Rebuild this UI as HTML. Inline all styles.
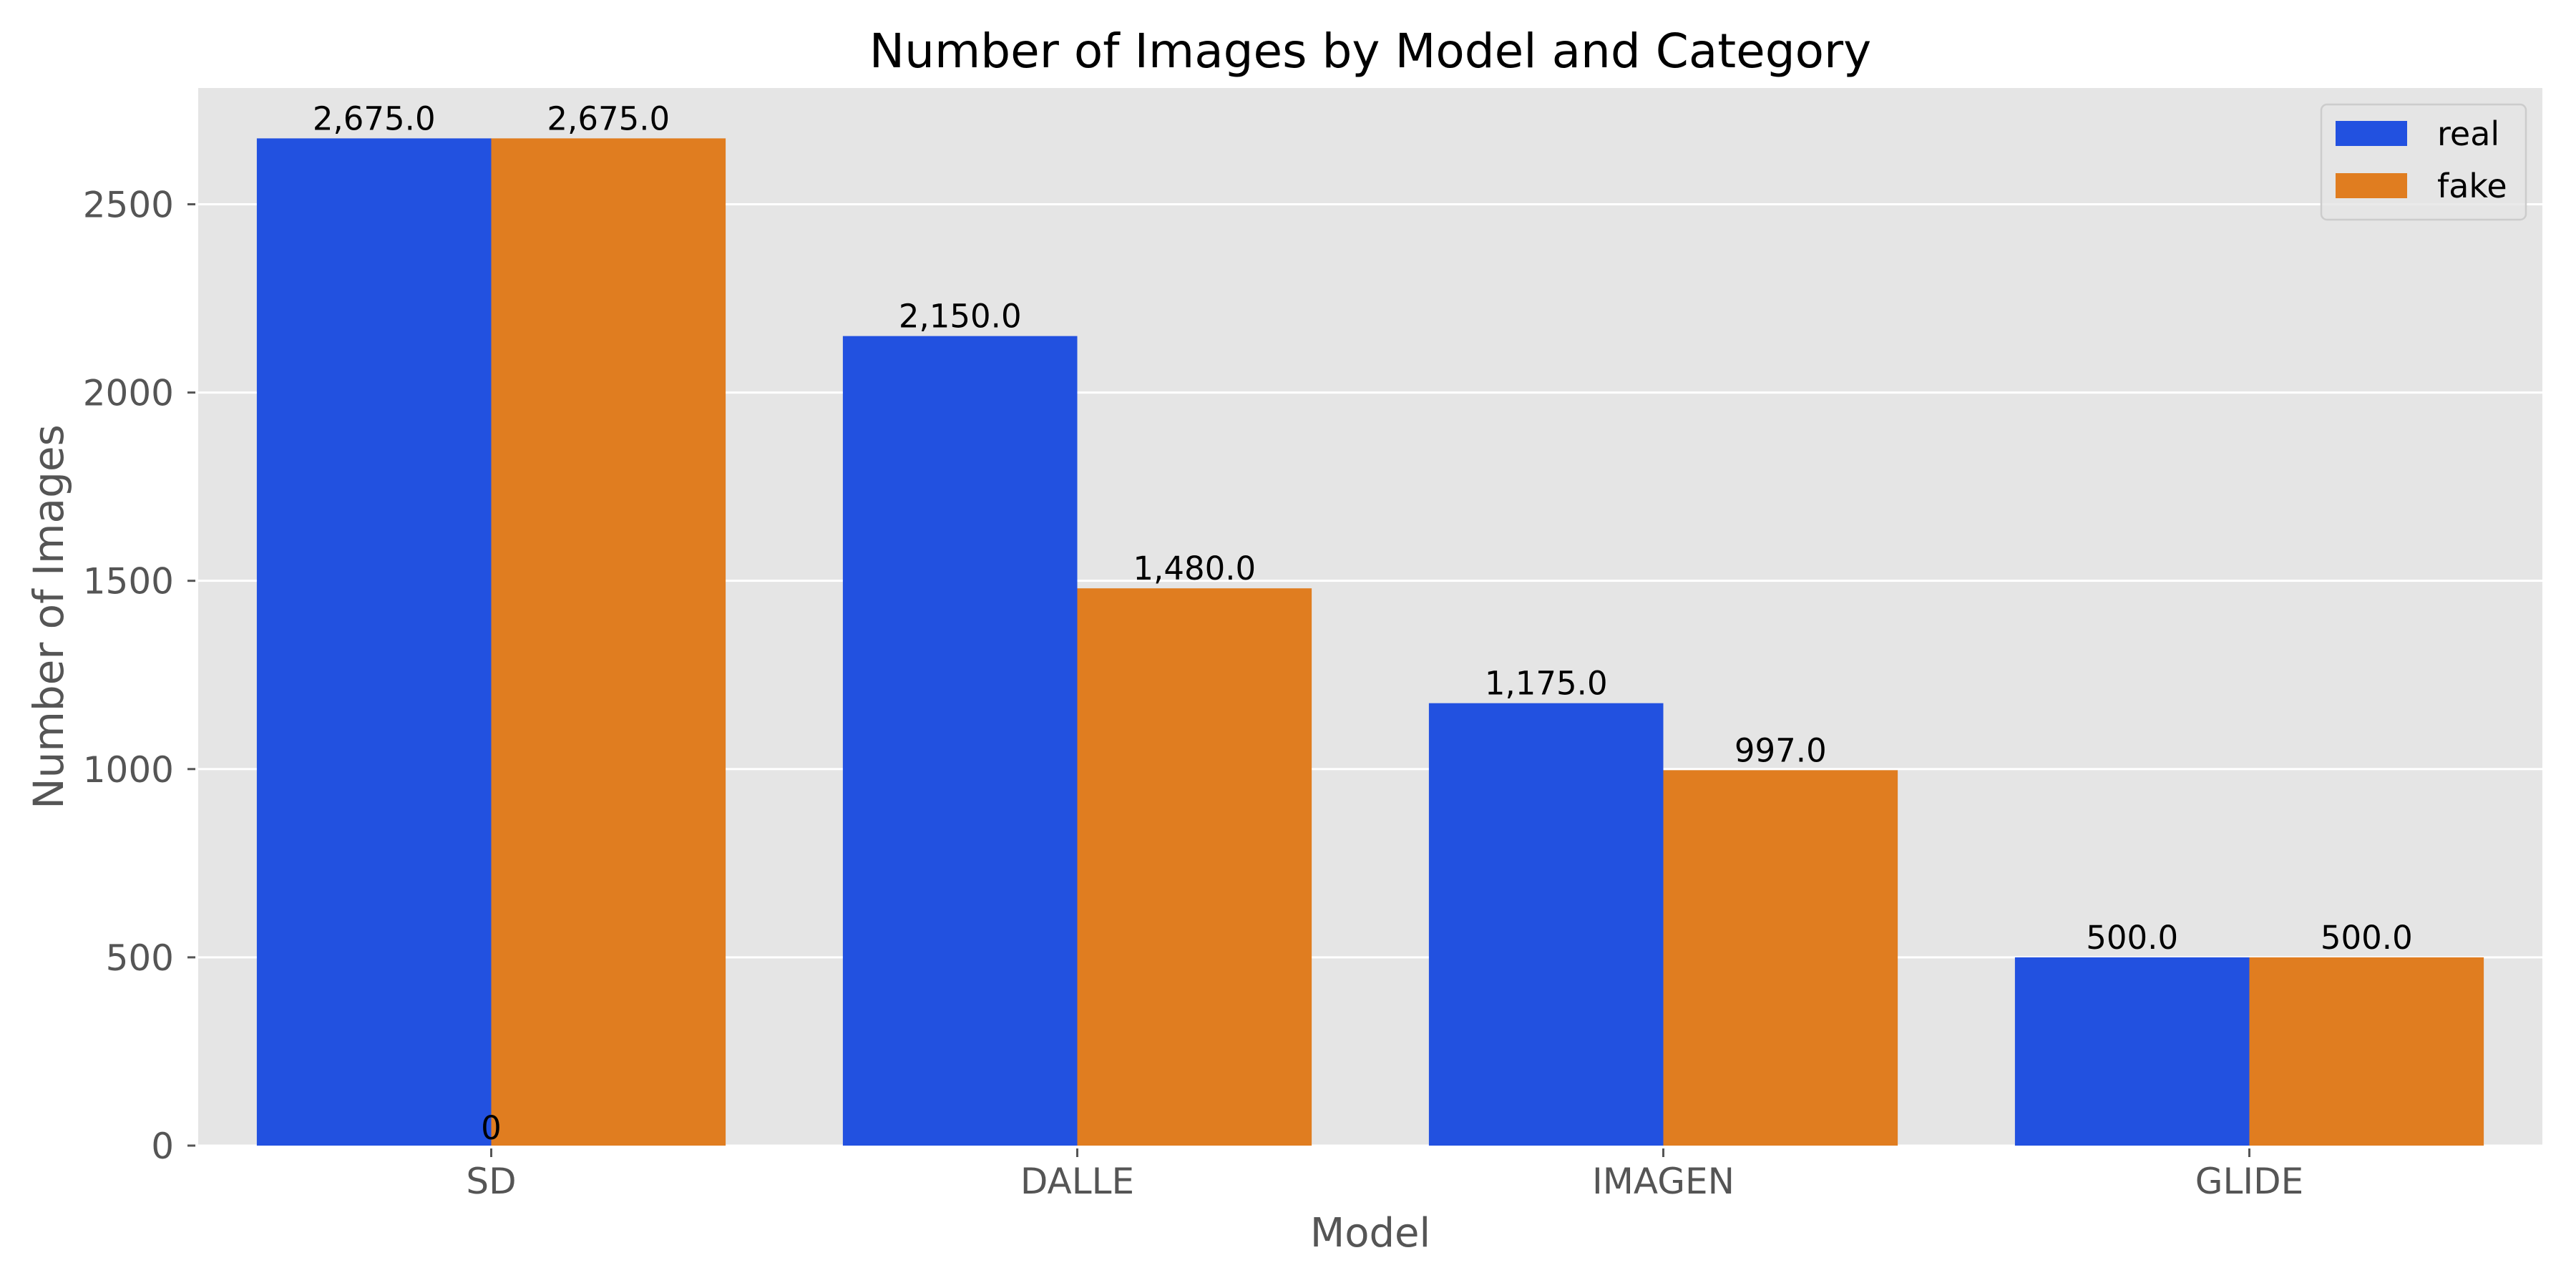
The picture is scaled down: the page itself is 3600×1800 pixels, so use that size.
<!DOCTYPE html>
<html><head><meta charset="utf-8"><style>
html,body{margin:0;padding:0;background:#fff;}
svg{display:block;font-family:"DejaVu Sans","Liberation Sans",sans-serif;}
</style></head><body>
<svg id="chart" width="3600" height="1800" viewBox="0 0 3600 1800" xmlns="http://www.w3.org/2000/svg">
<rect x="0" y="0" width="3600" height="1800" fill="#fff"/>
<rect x="277" y="123" width="3276" height="1478" fill="#e5e5e5"/>
<g id="grid"></g><g id="bars"></g><g id="labels"></g><g id="axes"></g>
<text x="1915" y="94" text-anchor="middle" font-size="66" fill="#000">Number of Images by Model and Category</text>
<text x="1915" y="1742" text-anchor="middle" font-size="56" fill="#555">Model</text>
<text transform="translate(88,862) rotate(-90)" text-anchor="middle" font-size="58" fill="#555">Number of Images</text>
<g>
<rect x="3244" y="146" width="286" height="161" rx="8" fill="#e5e5e5" fill-opacity="0.8" stroke="#cccccc" stroke-width="2.5"/>
<rect x="3264" y="169" width="100" height="35" fill="#2251e0"/>
<text x="3406" y="203" font-size="46" fill="#000">real</text>
<rect x="3264" y="242" width="100" height="35" fill="#e07d20"/>
<text x="3406" y="276" font-size="46" fill="#000">fake</text>
</g>
</svg>
<script>
const categories = ["SD", "DALLE", "IMAGEN", "GLIDE"];
const realValues = [2675, 2150, 1175, 500];
const fakeValues = [2675, 1480, 997, 500];
const yTicks = [0, 500, 1000, 1500, 2000, 2500];

const NS = "http://www.w3.org/2000/svg";
const L = 277, R = 3553, T = 123, B = 1601;
const yMax = Math.max(...realValues, ...fakeValues) * 1.05;
const band = (R - L) / categories.length;
const xC = i => L + band * (i + 0.5);
const y = v => B - (v / yMax) * (B - T);
function mk(tag, attrs, parent) {
  const e = document.createElementNS(NS, tag);
  for (const k in attrs) e.setAttribute(k, attrs[k]);
  parent.appendChild(e); return e;
}
const grid = document.getElementById('grid'), bars = document.getElementById('bars'),
      labels = document.getElementById('labels'), axes = document.getElementById('axes');
yTicks.forEach(t => {
  const g = mk('line', {x1: L, x2: R, y1: y(t), y2: y(t), stroke: '#fff', 'stroke-width': 3}, grid);
  
  
  const tk = mk('line', {x1: L - 15, x2: L - 4, y1: y(t), y2: y(t), stroke: '#555', 'stroke-width': 3}, axes);
  
  
  const tl = mk('text', {x: L - 34, y: y(t) + 18, 'text-anchor': 'end', 'font-size': 50, fill: '#555'}, axes);
  tl.textContent = String(t);
  
  
});
const bw = band * 0.4;
const fmt = v => v.toLocaleString('en-US', {minimumFractionDigits: 1, maximumFractionDigits: 1});
function drawSeries(vals, color, off, name) {
  vals.forEach((v, i) => {
    const x0 = xC(i) + off * bw;
    const r = mk('rect', {x: x0, y: y(v), width: bw, height: B - y(v), fill: color}, bars);
    
    
    const t = mk('text', {x: x0 + bw / 2, y: y(v) - 12, 'text-anchor': 'middle', 'font-size': 45, fill: '#000'}, labels);
    t.textContent = fmt(v);
    
    
  });
}
drawSeries(realValues, '#2251e0', -1, 'real');
drawSeries(fakeValues, '#e07d20', 0, 'fake');
const z = mk('text', {x: xC(0), y: B - 9, 'text-anchor': 'middle', 'font-size': 45, fill: '#000'}, labels);
z.textContent = '0';


categories.forEach((c, i) => {
  const tk = mk('line', {x1: xC(i), x2: xC(i), y1: B + 4, y2: B + 16, stroke: '#555', 'stroke-width': 3}, axes);
  
  
  const tl = mk('text', {x: xC(i), y: B + 67, 'text-anchor': 'middle', 'font-size': 50, fill: '#555'}, axes);
  tl.textContent = c;
  
  
});
</script>
</body></html>
